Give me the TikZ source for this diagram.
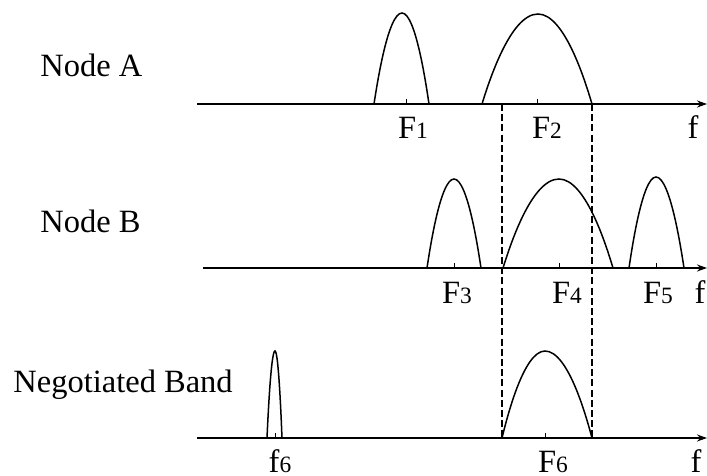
\documentclass[tikz,border=0pt]{standalone}
\usepackage{fontspec}
\setmainfont{Liberation Serif}
\usetikzlibrary{arrows.meta}
\newcommand{\lbl}[2]{#1{\fontsize{11.7}{12}\selectfont #2}}
\begin{document}
\begin{tikzpicture}[x=0.5pt,y=-0.5pt,
  axis/.style={line width=0.9pt,-{Stealth[length=5pt,width=3.5pt]}},
  peak/.style={line width=0.75pt},
  tick/.style={line width=0.5pt},
  band/.style={line width=0.75pt,dash pattern=on 3.5pt off 1.6pt},
  txt/.style={font=\fontsize{16.25}{18}\selectfont,inner sep=0pt,anchor=base west},
  lab/.style={font=\fontsize{16.25}{18}\selectfont,inner sep=0pt,anchor=base}]
\useasboundingbox (0,0) rectangle (707,476);
% row labels
\node[txt] (nA) at (40,77) {Node A};
\node[txt] (nB) at (40,232) {Node B};
\node[txt] (nC) at (13,392) {Negotiated Band};
% axis end points
\coordinate (a0) at (197,104); \coordinate (a1) at (707,104);
\coordinate (b0) at (203,268); \coordinate (b1) at (707,268);
\coordinate (c0) at (197,438); \coordinate (c1) at (707,438);
\draw[axis] (a0) -- (a1);
\draw[axis] (b0) -- (b1);
\draw[axis] (c0) -- (c1);
% dashed band limits
\coordinate (d1t) at (502,104); \coordinate (d1b) at (502,438);
\coordinate (d2t) at (592,104); \coordinate (d2b) at (592,438);
\draw[band] (d1t) -- (d1b);
\draw[band] (d2t) -- (d2b);
% Node A spectra
\draw[peak] (374,104) parabola bend (402,13) (429,104);
\draw[peak] (482,104) parabola bend (538,14) (592,104);
\draw[tick] (406,104) -- (406,99);
\draw[tick] (537,104) -- (537,99);
\node[lab] (F1) at (413,139) {\lbl{F}{1}};
\node[lab] (F2) at (547,139) {\lbl{F}{2}};
\node[lab] (fa) at (693,139) {f};
% Node B spectra
\draw[peak] (427,268) parabola bend (454,179) (481,268);
\draw[peak] (503,268) parabola bend (559,179) (613,268);
\draw[peak] (629,268) parabola bend (656,177) (684,268);
\draw[tick] (454,268) -- (454,263);
\draw[tick] (559,268) -- (559,263);
\draw[tick] (656,268) -- (656,263);
\node[lab] (F3) at (457,303) {\lbl{F}{3}};
\node[lab] (F4) at (567,303) {\lbl{F}{4}};
\node[lab] (F5) at (658,303) {\lbl{F}{5}};
\node[lab] (fb) at (700,303) {f};
% Negotiated band spectra
\draw[peak] (267,438) parabola bend (275,351) (282,438);
\draw[peak] (502,438) parabola bend (545,351) (592,438);
\draw[tick] (275,438) -- (275,433);
\draw[tick] (545,438) -- (545,433);
\node[lab] (f6) at (280,472) {\lbl{f}{6}};
\node[lab] (F6) at (553,472) {\lbl{F}{6}};
\node[lab] (fc) at (696,472) {f};
\end{tikzpicture}
\end{document}
